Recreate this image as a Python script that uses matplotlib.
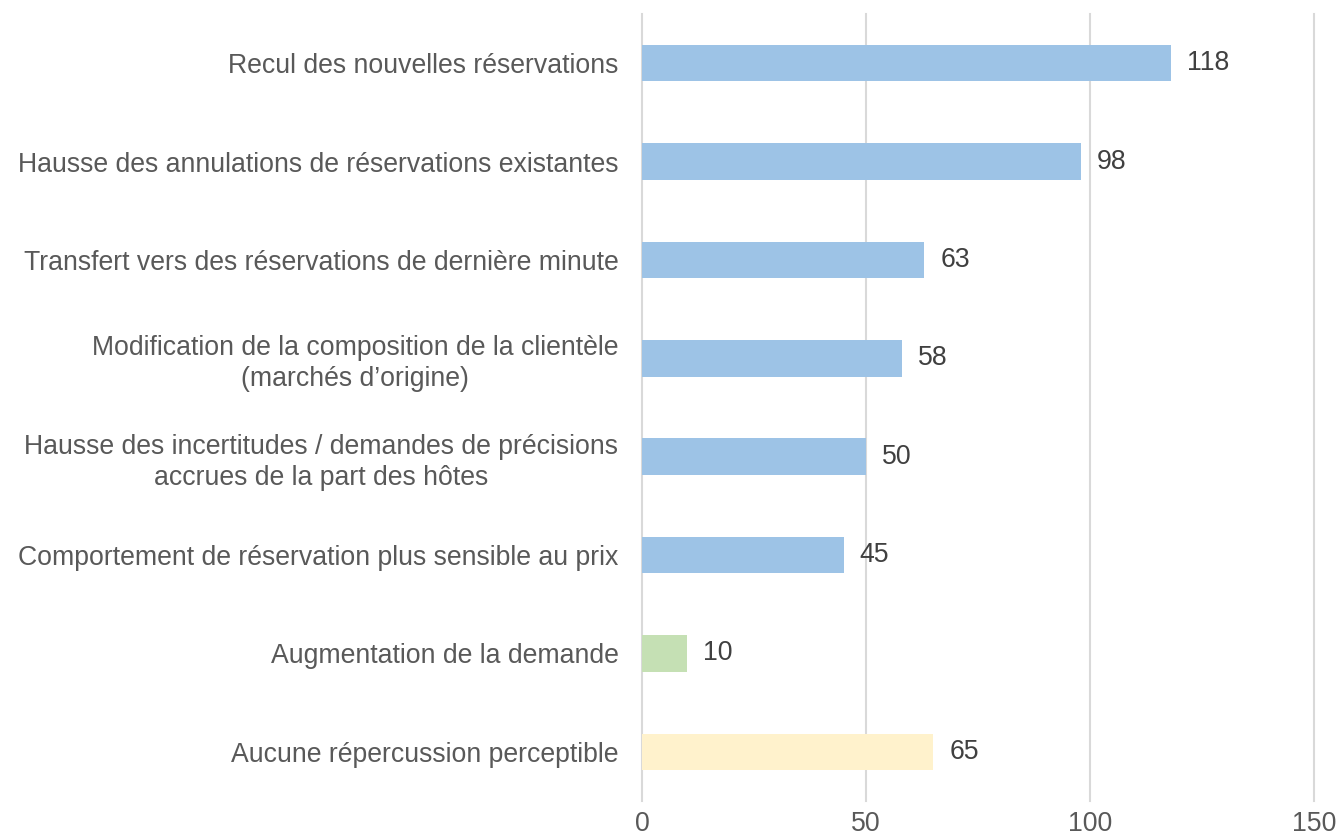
import matplotlib
matplotlib.use("Agg")
import matplotlib.pyplot as plt

categories = [
    "Recul des nouvelles réservations",
    "Hausse des annulations de réservations existantes",
    "Transfert vers des réservations de dernière minute",
    "Modification de la composition de la clientèle\n(marchés d’origine)",
    "Hausse des incertitudes / demandes de précisions\naccrues de la part des hôtes",
    "Comportement de réservation plus sensible au prix",
    "Augmentation de la demande",
    "Aucune répercussion perceptible",
]
values = [118, 98, 63, 58, 50, 45, 10, 65]
colors = ["#9DC3E6"] * 6 + ["#C5E0B4", "#FFF2CC"]
xticks = [0, 50, 100, 150]

plt.rcParams['font.family'] = ['Liberation Sans', 'DejaVu Sans']

fig = plt.figure(figsize=(13.38, 8.4), dpi=100)
ax = fig.add_axes([642/1338, 1-801/840, (1314-642)/1338, (801-14)/840])

ypos = list(range(len(categories)))
ax.barh(ypos, values, height=0.37, color=colors, zorder=3)
ax.set_ylim(len(categories) - 0.5, -0.5)
ax.set_xlim(0, 150)
ax.set_xticks(xticks)
ax.xaxis.grid(True, color="#D9D9D9", linewidth=1.5, zorder=0)
for gl in ax.get_xgridlines():
    gl.set_clip_on(False)
ax.set_axisbelow(True)
for s in ax.spines.values():
    s.set_visible(False)
ax.tick_params(axis='both', length=0, labelsize=19.2, colors="#595959")
ax.tick_params(axis='x', pad=7)
ax.tick_params(axis='y', pad=17)
ax.set_yticks(ypos)
ax.set_yticklabels(categories, multialignment='center', linespacing=1.25)

for y, v in zip(ypos, values):
    ax.annotate(str(v), xy=(v, y), xytext=(11.5, 0), textcoords='offset points',
                ha='left', va='center', fontsize=19.2, color="#404040")

fig.savefig("out.png", dpi=100)
